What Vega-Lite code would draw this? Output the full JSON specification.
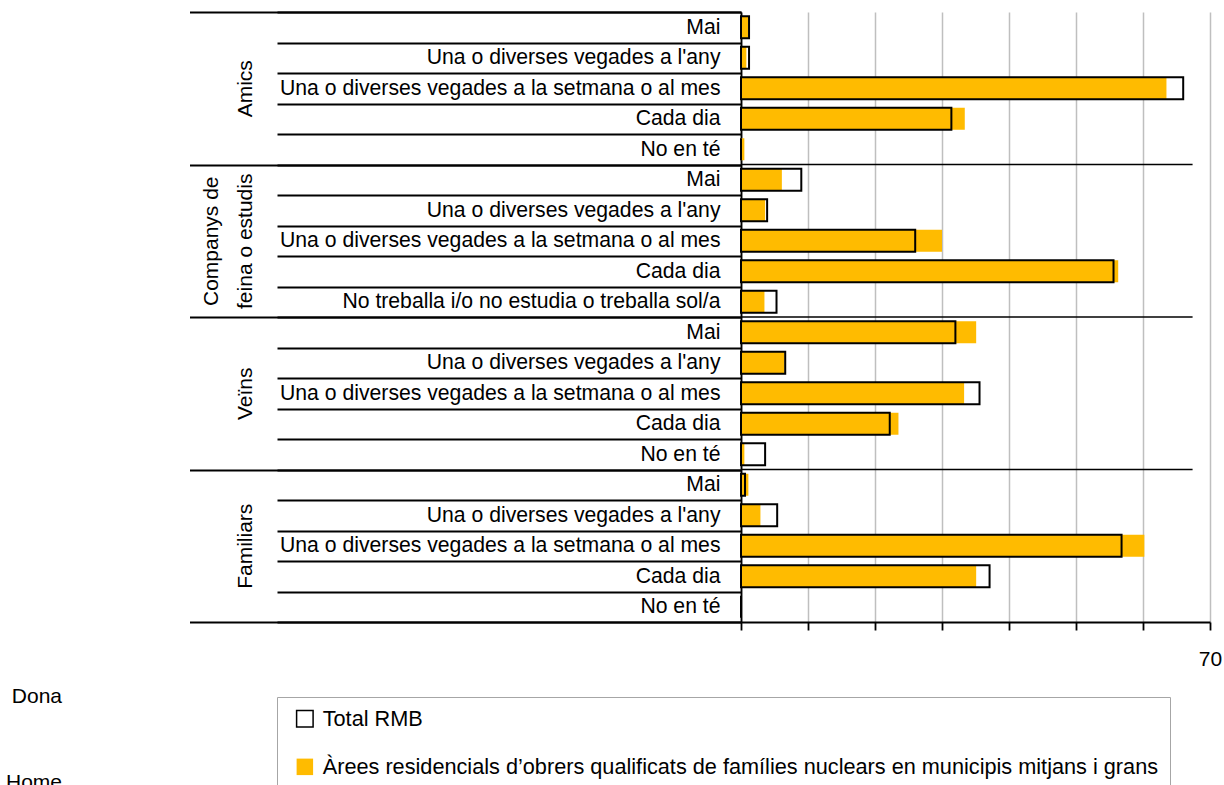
{
  "$schema": "https://vega.github.io/schema/vega-lite/v6.json",
  "width": 469,
  "height": 610,
  "autosize": {"type": "none"},
  "padding": {"left": 741, "top": 12, "right": 14, "bottom": 163},
  "background": "white",
  "config": {
    "font": "Liberation Sans",
    "view": {"stroke": null}
  },
  "layer": [
    {
      "data": {
        "values": [
          {"key": "Amics|Mai", "series": "Àrees residencials d’obrers qualificats de famílies nuclears en municipis mitjans i grans", "value": 1.1},
          {"key": "Amics|Mai", "series": "Total RMB", "value": 1.2},
          {"key": "Amics|Una o diverses vegades a l'any", "series": "Àrees residencials d’obrers qualificats de famílies nuclears en municipis mitjans i grans", "value": 0.8},
          {"key": "Amics|Una o diverses vegades a l'any", "series": "Total RMB", "value": 1.2},
          {"key": "Amics|Una o diverses vegades a la setmana o al mes", "series": "Àrees residencials d’obrers qualificats de famílies nuclears en municipis mitjans i grans", "value": 63.5},
          {"key": "Amics|Una o diverses vegades a la setmana o al mes", "series": "Total RMB", "value": 66.0},
          {"key": "Amics|Cada dia", "series": "Àrees residencials d’obrers qualificats de famílies nuclears en municipis mitjans i grans", "value": 33.4},
          {"key": "Amics|Cada dia", "series": "Total RMB", "value": 31.4},
          {"key": "Amics|No en té", "series": "Àrees residencials d’obrers qualificats de famílies nuclears en municipis mitjans i grans", "value": 0.5},
          {"key": "Amics|No en té", "series": "Total RMB", "value": 0},
          {"key": "Companys|Mai", "series": "Àrees residencials d’obrers qualificats de famílies nuclears en municipis mitjans i grans", "value": 6.1},
          {"key": "Companys|Mai", "series": "Total RMB", "value": 9.0},
          {"key": "Companys|Una o diverses vegades a l'any", "series": "Àrees residencials d’obrers qualificats de famílies nuclears en municipis mitjans i grans", "value": 3.6},
          {"key": "Companys|Una o diverses vegades a l'any", "series": "Total RMB", "value": 3.9},
          {"key": "Companys|Una o diverses vegades a la setmana o al mes", "series": "Àrees residencials d’obrers qualificats de famílies nuclears en municipis mitjans i grans", "value": 30.0},
          {"key": "Companys|Una o diverses vegades a la setmana o al mes", "series": "Total RMB", "value": 26.0},
          {"key": "Companys|Cada dia", "series": "Àrees residencials d’obrers qualificats de famílies nuclears en municipis mitjans i grans", "value": 56.3},
          {"key": "Companys|Cada dia", "series": "Total RMB", "value": 55.6},
          {"key": "Companys|No treballa i/o no estudia o treballa sol/a", "series": "Àrees residencials d’obrers qualificats de famílies nuclears en municipis mitjans i grans", "value": 3.5},
          {"key": "Companys|No treballa i/o no estudia o treballa sol/a", "series": "Total RMB", "value": 5.3},
          {"key": "Veïns|Mai", "series": "Àrees residencials d’obrers qualificats de famílies nuclears en municipis mitjans i grans", "value": 35.1},
          {"key": "Veïns|Mai", "series": "Total RMB", "value": 32.0},
          {"key": "Veïns|Una o diverses vegades a l'any", "series": "Àrees residencials d’obrers qualificats de famílies nuclears en municipis mitjans i grans", "value": 6.5},
          {"key": "Veïns|Una o diverses vegades a l'any", "series": "Total RMB", "value": 6.6},
          {"key": "Veïns|Una o diverses vegades a la setmana o al mes", "series": "Àrees residencials d’obrers qualificats de famílies nuclears en municipis mitjans i grans", "value": 33.3},
          {"key": "Veïns|Una o diverses vegades a la setmana o al mes", "series": "Total RMB", "value": 35.6},
          {"key": "Veïns|Cada dia", "series": "Àrees residencials d’obrers qualificats de famílies nuclears en municipis mitjans i grans", "value": 23.5},
          {"key": "Veïns|Cada dia", "series": "Total RMB", "value": 22.2},
          {"key": "Veïns|No en té", "series": "Àrees residencials d’obrers qualificats de famílies nuclears en municipis mitjans i grans", "value": 0.5},
          {"key": "Veïns|No en té", "series": "Total RMB", "value": 3.6},
          {"key": "Familiars|Mai", "series": "Àrees residencials d’obrers qualificats de famílies nuclears en municipis mitjans i grans", "value": 1.1},
          {"key": "Familiars|Mai", "series": "Total RMB", "value": 0.6},
          {"key": "Familiars|Una o diverses vegades a l'any", "series": "Àrees residencials d’obrers qualificats de famílies nuclears en municipis mitjans i grans", "value": 2.9},
          {"key": "Familiars|Una o diverses vegades a l'any", "series": "Total RMB", "value": 5.4},
          {"key": "Familiars|Una o diverses vegades a la setmana o al mes", "series": "Àrees residencials d’obrers qualificats de famílies nuclears en municipis mitjans i grans", "value": 60.2},
          {"key": "Familiars|Una o diverses vegades a la setmana o al mes", "series": "Total RMB", "value": 56.8},
          {"key": "Familiars|Cada dia", "series": "Àrees residencials d’obrers qualificats de famílies nuclears en municipis mitjans i grans", "value": 35.1},
          {"key": "Familiars|Cada dia", "series": "Total RMB", "value": 37.1},
          {"key": "Familiars|No en té", "series": "Àrees residencials d’obrers qualificats de famílies nuclears en municipis mitjans i grans", "value": 0},
          {"key": "Familiars|No en té", "series": "Total RMB", "value": 0}
        ]
      },
      "mark": {"type": "bar", "strokeWidth": 2, "height": {"band": 0.72}},
      "encoding": {
        "y": {
          "field": "key", "type": "nominal", "sort": null,
          "scale": {"type": "band", "paddingInner": 0, "paddingOuter": 0},
          "axis": {
            "title": null, "orient": "left", "tickBand": "extent",
            "tickSize": 464, "tickWidth": 1.8, "tickColor": "black",
            "domainColor": "black", "domainWidth": 1.8,
            "labelPadding": -443, "labelFontSize": 21.2, "labelColor": "black",
            "labelLimit": 1000, "labelExpr": "split(datum.label, '|')[1]",
            "labelBaseline": "middle", "labelAlign": "right", "labelOverlap": false,
            "grid": false
          }
        },
        "x": {
          "field": "value", "type": "quantitative", "stack": null,
          "scale": {"domain": [0, 70], "nice": false},
          "axis": {
            "values": [0, 10, 20, 30, 40, 50, 60, 70],
            "grid": true, "gridColor": "#BFBFBF", "gridWidth": 1.5,
            "tickColor": "black", "tickSize": 8, "tickWidth": 1.8,
            "domainColor": "black", "domainWidth": 1.8,
            "labelExpr": "datum.value == 70 ? '70' : ''",
            "labelFontSize": 21, "labelColor": "black", "labelPadding": 29,
            "labelBaseline": "middle", "labelFlush": false, "labelOverlap": false,
            "title": ["Dona", "Home"], "titleFontSize": 21, "titleFontWeight": "normal",
            "titleColor": "black", "titleAlign": "right", "titleBaseline": "alphabetic",
            "titleX": -679.5, "titleY": 80, "titleLineHeight": 86, "titleAngle": 0
          }
        },
        "fill": {
          "field": "series", "type": "nominal",
          "scale": {
            "domain": ["Total RMB", "Àrees residencials d’obrers qualificats de famílies nuclears en municipis mitjans i grans"],
            "range": ["transparent", "#FFBB00"]
          },
          "legend": {
            "title": null, "orient": "none", "legendX": -464, "legendY": 685,
            "direction": "vertical", "symbolType": "square", "symbolSize": 272,
            "symbolStrokeWidth": 1.5, "labelFontSize": 21.7, "labelColor": "black",
            "labelLimit": 1000, "padding": 11, "symbolOffset": 6, "labelOffset": 7,
            "rowPadding": 24, "strokeColor": "#A6A6A6", "fillColor": "white"
          }
        },
        "stroke": {
          "field": "series", "type": "nominal",
          "scale": {
            "domain": ["Total RMB", "Àrees residencials d’obrers qualificats de famílies nuclears en municipis mitjans i grans"],
            "range": ["black", "transparent"]
          },
          "legend": {
            "title": null, "orient": "none", "legendX": -464, "legendY": 685,
            "direction": "vertical", "symbolType": "square", "symbolSize": 272,
            "symbolStrokeWidth": 1.5, "labelFontSize": 21.7, "labelColor": "black",
            "labelLimit": 1000, "padding": 11, "symbolOffset": 6, "labelOffset": 7,
            "rowPadding": 24, "strokeColor": "#A6A6A6", "fillColor": "white"
          }
        }
      }
    },
    {
      "data": {"values": [{"group": "Amics"}, {"group": "Companys de feina o estudis"}, {"group": "Veïns"}]},
      "mark": {"type": "rule", "color": "black", "strokeWidth": 1.5},
      "encoding": {
        "y": {
          "field": "group", "type": "nominal", "bandPosition": 1,
          "scale": {"type": "band", "domain": ["Amics", "Companys de feina o estudis", "Veïns", "Familiars"], "paddingInner": 0, "paddingOuter": 0},
          "axis": {
            "title": null, "orient": "left", "tickBand": "extent",
            "tickSize": 551.5, "tickWidth": 1.8, "tickColor": "black",
            "domain": false, "grid": false,
            "labelAngle": 270, "labelAlign": "center", "labelBaseline": "bottom",
            "labelPadding": {"condition": {"test": "datum.value == 'Companys de feina o estudis'", "value": -31.5}, "value": -65.5},
            "labelFontSize": 21, "labelColor": "black",
            "labelLineHeight": 34, "labelLimit": 1000, "labelOverlap": false,
            "labelExpr": "datum.label == 'Companys de feina o estudis' ? ['Companys de', 'feina o estudis'] : datum.label"
          }
        },
        "x": {"datum": 0},
        "x2": {"datum": 67.4}
      }
    }
  ],
  "resolve": {"scale": {"y": "independent"}, "axis": {"y": "independent"}}
}
